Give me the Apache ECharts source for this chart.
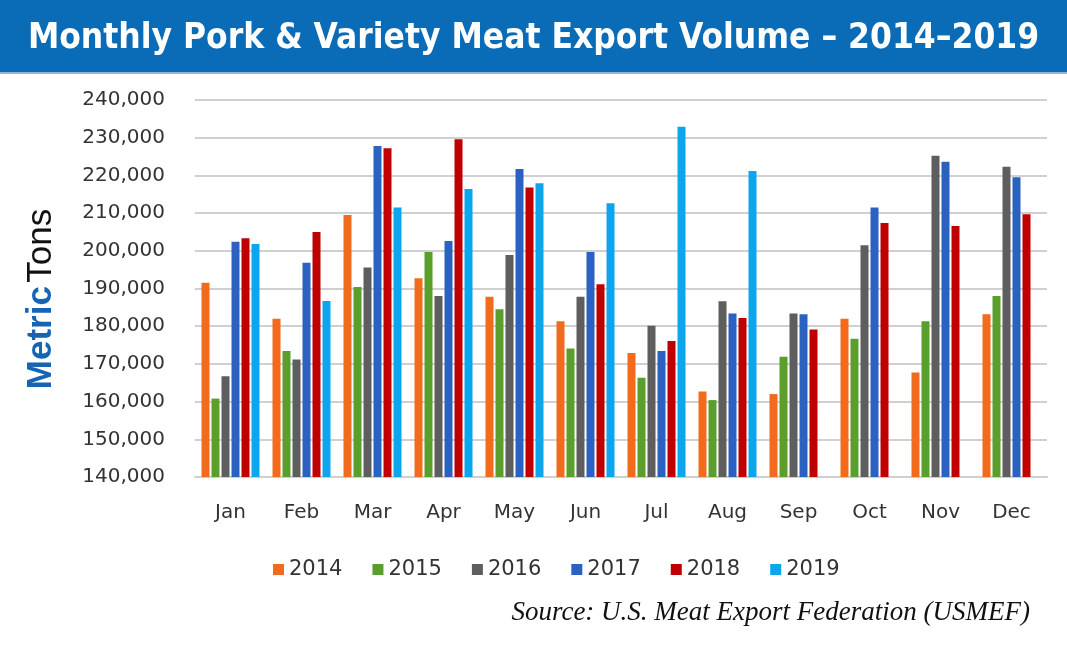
<!DOCTYPE html>
<html>
<head>
<meta charset="utf-8">
<script src="https://cdn.jsdelivr.net/npm/echarts@6/dist/echarts.min.js"></script>
<style>
html,body{margin:0;padding:0;background:#fff;}
#chart{width:1067px;height:651px;}
</style>
</head>
<body>
<div id="chart"></div>
<script>
const months = ['Jan','Feb','Mar','Apr','May','Jun','Jul','Aug','Sep','Oct','Nov','Dec'];
const years = ['2014','2015','2016','2017','2018','2019'];
const v2014 = [191500,182000,209500,192700,187800,181300,172900,162700,162000,182000,167700,183200];
const v2015 = [160800,173400,190400,199700,184500,174100,166300,160400,171900,176700,181300,188000];
const v2016 = [166700,171200,195600,188000,198900,187800,180100,186600,183400,201500,225200,222300];
const v2017 = [202400,196800,227800,202600,221700,199700,173400,183400,183200,211500,223600,219500];
const v2018 = [203300,205000,227200,229600,216800,191100,176100,182200,179100,207400,206600,209700];
const v2019 = [201800,186700,211500,216400,217900,212600,232900,221200,null,null,null,null];
const yTicks = [140000,150000,160000,170000,180000,190000,200000,210000,220000,230000,240000];

const seriesData = [v2014,v2015,v2016,v2017,v2018,v2019];
const colors = ['#f26a1b','#5a9e2c','#5e5e5e','#2b62c2','#c00000','#0ca6ee'];

const chart = echarts.init(document.getElementById('chart'));
chart.setOption({
  animation:false,
  color:colors,
  title:{
    text:'Monthly Pork & Variety Meat Export Volume \u2013 2014\u20132019',
    left:'center', top:16,
    textStyle:{color:'#fff',fontSize:35,fontWeight:'bold',fontFamily:'DejaVu Sans Condensed, Liberation Sans'}
  },
  graphic:[
    {type:'rect',z:-1,shape:{x:0,y:0,width:1067,height:72},style:{fill:'#0a6bb6'}},
    {type:'rect',z:-1,shape:{x:0,y:72,width:1067,height:2},style:{fill:'#8fb8e0'}},
    {type:'text',right:37,top:599,style:{text:'Source: U.S. Meat Export Federation (USMEF)',fill:'#111',font:'italic 27px "Liberation Serif", serif'}},
    {type:'text',x:41,y:299,rotation:Math.PI/2,style:{
      text:'{m|Metric} {t|Tons}', align:'center', verticalAlign:'middle',
      rich:{
        m:{fontSize:35,fontWeight:'bold',fill:'#1565b4',fontFamily:'Liberation Sans'},
        t:{fontSize:35,fill:'#111',fontFamily:'Liberation Sans'}
      }
    }}
  ],
  legend:{
    data:years, left:268, top:554,
    itemWidth:11, itemHeight:11, itemGap:30, icon:'rect',
    textStyle:{fontSize:21,color:'#333',fontFamily:'DejaVu Sans'}
  },
  grid:{left:195,right:20,top:100,bottom:174},
  xAxis:{
    type:'category', data:months,
    axisTick:{show:false},
    axisLine:{lineStyle:{color:'#d0d0d0',width:2}},
    axisLabel:{fontSize:20,color:'#333',margin:26,fontFamily:'DejaVu Sans'}
  },
  yAxis:{
    type:'value', min:yTicks[0], max:yTicks[yTicks.length-1], interval:10000,
    axisLine:{show:false}, axisTick:{show:false},
    splitLine:{lineStyle:{color:'#d0d0d0',width:2}},
    axisLabel:{fontSize:20,color:'#333',margin:30,fontFamily:'DejaVu Sans',
      formatter:v=>v.toLocaleString('en-US')}
  },
  series:seriesData.map((d,i)=>({
    name:years[i], type:'bar', data:d, barWidth:8, barGap:'25%',
    itemStyle:{color:colors[i]}
  }))
});
</script>
</body>
</html>
